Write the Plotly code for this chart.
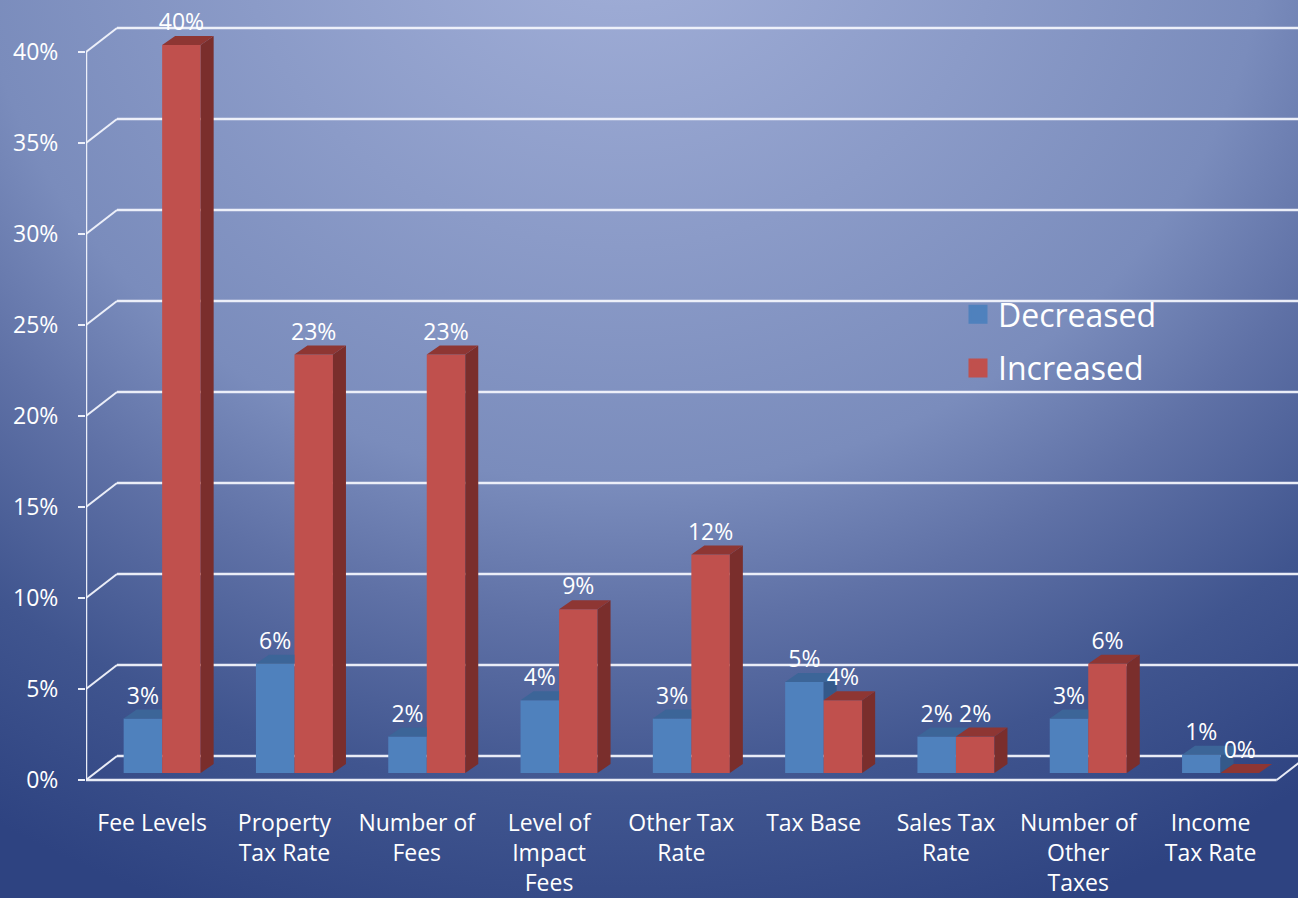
import base64
import plotly.graph_objects as go

# ---- data -------------------------------------------------------------
categories = [
    "Fee Levels", "Property<br>Tax Rate", "Number of<br>Fees",
    "Level of<br>Impact<br>Fees", "Other Tax<br>Rate", "Tax Base",
    "Sales Tax<br>Rate", "Number of<br>Other<br>Taxes", "Income<br>Tax Rate",
]
decreased = [3, 6, 2, 4, 3, 5, 2, 3, 1]
increased = [40, 23, 23, 9, 12, 4, 2, 6, 0]
y_ticks = [0, 5, 10, 15, 20, 25, 30, 35, 40]
series_names = ["Decreased", "Increased"]

# ---- look & geometry --------------------------------------------------
W, H = 1298, 898
PX_CAT = 132.3          # pixels per category slot
PX_PCT = 18.2           # pixels per percentage point
X0_PX = 86              # left edge of the front wall
Y0_PX = 780             # front floor line
Y_BOTTOM_PX = 794       # bottom of the plotting domain

WALL_DX = 31 / PX_CAT   # depth of the back wall
WALL_DY = 24 / PX_PCT
BAR_W = 38.5 / PX_CAT
BAR_SHIFT = 10 / PX_CAT
BAR_BASE = 7 / PX_PCT   # bars stand a little behind the front edge
BAR_DX = 13 / PX_CAT    # depth of each column
BAR_DY = 9 / PX_PCT

x_max = -0.5 + (W - X0_PX) / PX_CAT
y_min = -(Y_BOTTOM_PX - Y0_PX) / PX_PCT
y_max = Y0_PX / PX_PCT

BLUE = dict(front="#4F81BD", top="#3C6598", side="#34598A")
RED = dict(front="#C0504D", top="#8E3633", side="#7A2E2C")
FONT = "Open Sans"
GRID = "rgba(242,244,252,0.95)"

# ---- background gradient ----------------------------------------------
svg = f"""<svg xmlns='http://www.w3.org/2000/svg' width='{W}' height='{H}' viewBox='0 0 {W} {H}' preserveAspectRatio='none'>
<defs><radialGradient id='g' gradientUnits='userSpaceOnUse' cx='0' cy='0' r='1'
 gradientTransform='translate(620,-100) scale(1200,1080)'>
<stop offset='0' stop-color='#A7B4DB'/>
<stop offset='0.1' stop-color='#9CAAD4'/>
<stop offset='0.54' stop-color='#7A8CBC'/>
<stop offset='0.67' stop-color='#5F71A6'/>
<stop offset='0.83' stop-color='#40558F'/>
<stop offset='1' stop-color='#2E4381'/>
</radialGradient></defs>
<rect x='0' y='0' width='{W}' height='{H}' fill='url(#g)'/></svg>"""
bg_uri = "data:image/svg+xml;base64," + base64.b64encode(svg.encode()).decode()

fig = go.Figure()

# front faces of the columns
blue_x = [i + BAR_SHIFT - BAR_W / 2 for i in range(len(categories))]
red_x = [i + BAR_SHIFT + BAR_W / 2 for i in range(len(categories))]
for xs, vals, col in [(blue_x, decreased, BLUE), (red_x, increased, RED)]:
    fig.add_trace(go.Bar(
        x=xs, y=vals, base=BAR_BASE, width=BAR_W,
        marker=dict(color=col["front"], line=dict(width=0)),
        showlegend=False, hoverinfo="skip",
    ))


def poly_trace(polys, color):
    xs, ys = [], []
    for p in polys:
        for px, py in p:
            xs.append(px)
            ys.append(py)
        xs.append(None)
        ys.append(None)
    return go.Scatter(x=xs, y=ys, mode="none", fill="toself",
                      fillcolor=color, showlegend=False, hoverinfo="skip")


blue_side, blue_top, red_side, red_top = [], [], [], []
for i in range(len(categories)):
    bl = blue_x[i] - BAR_W / 2
    br = blue_x[i] + BAR_W / 2
    rr = red_x[i] + BAR_W / 2
    bt = BAR_BASE + decreased[i]
    rt = BAR_BASE + increased[i]
    # blue side only shows where it rises above the red column
    if bt > rt:
        blue_side.append([(br, rt), (br + BAR_DX, rt + BAR_DY),
                          (br + BAR_DX, bt + BAR_DY), (br, bt)])
    # blue top is cut by the taller red column next to it
    right = br if increased[i] > decreased[i] else br + BAR_DX
    blue_top.append([(bl, bt), (bl + BAR_DX, bt + BAR_DY),
                     (right, bt + BAR_DY), (right, bt)])
    red_side.append([(rr, BAR_BASE), (rr + BAR_DX, BAR_BASE + BAR_DY),
                     (rr + BAR_DX, rt + BAR_DY), (rr, rt)])
    red_top.append([(br, rt), (br + BAR_DX, rt + BAR_DY),
                    (rr + BAR_DX, rt + BAR_DY), (rr, rt)])

fig.add_trace(poly_trace(blue_side, BLUE["side"]))
fig.add_trace(poly_trace(blue_top, BLUE["top"]))
fig.add_trace(poly_trace(red_side, RED["side"]))
fig.add_trace(poly_trace(red_top, RED["top"]))

# value labels
for xs, vals in [(blue_x, decreased), (red_x, increased)]:
    fig.add_trace(go.Scatter(
        x=xs, y=[BAR_BASE + v + BAR_DY for v in vals],
        text=[f"{v}%" for v in vals], mode="text", textposition="top center",
        textfont=dict(family=FONT, size=23, color="white"),
        cliponaxis=False, showlegend=False, hoverinfo="skip",
    ))

# legend entries
for name, col in zip(series_names, [BLUE, RED]):
    fig.add_trace(go.Scatter(
        x=[None], y=[None], mode="markers", name=name, legendgroup=name,
        marker=dict(symbol="square", size=16, color=col["front"],
                    line=dict(color=col["front"], width=3)),
    ))

# walls: side-wall diagonals, back-wall gridlines, front edges
shapes = []
for t in y_ticks:
    shapes.append(dict(type="line", xref="x", yref="y", layer="below",
                       x0=-0.5, y0=t, x1=-0.5 + WALL_DX, y1=t + WALL_DY,
                       line=dict(color=GRID, width=2)))
    shapes.append(dict(type="line", xref="x", yref="y", layer="below",
                       x0=-0.5 + WALL_DX, y0=t + WALL_DY, x1=x_max + 1, y1=t + WALL_DY,
                       line=dict(color=GRID, width=2.5)))
n = len(categories)
shapes.append(dict(type="line", xref="x", yref="y", layer="below",
                   x0=-0.5, y0=0, x1=n - 0.5, y1=0, line=dict(color=GRID, width=2.5)))
shapes.append(dict(type="line", xref="x", yref="y", layer="below",
                   x0=n - 0.5, y0=0, x1=n - 0.5 + WALL_DX, y1=WALL_DY,
                   line=dict(color=GRID, width=2)))
shapes.append(dict(type="line", xref="x", yref="y", layer="below",
                   x0=-0.5, y0=0, x1=-0.5, y1=y_ticks[-1], line=dict(color=GRID, width=2.5)))

axis_pos = (H - Y0_PX) / H
fig.update_layout(
    width=W, height=H,
    margin=dict(l=0, r=0, t=0, b=0),
    paper_bgcolor="#2E4381", plot_bgcolor="rgba(0,0,0,0)",
    images=[dict(source=bg_uri, xref="paper", yref="paper", x=0, y=1,
                 sizex=1, sizey=1, sizing="stretch", layer="below")],
    barmode="overlay",
    hovermode=False,
    shapes=shapes,
    font=dict(family=FONT, color="white"),
    xaxis=dict(
        domain=[X0_PX / W, 1], range=[-0.5, x_max],
        anchor="free", position=axis_pos,
        tickvals=list(range(n)), ticktext=categories, ticks="",
        tickfont=dict(family=FONT, size=23, color="white"),
        ticklabelstandoff=27,
        showgrid=False, zeroline=False, showline=False,
    ),
    xaxis2=dict(
        overlaying="x", range=[-0.5, x_max], anchor="free", position=axis_pos,
        tickvals=[k - 0.5 for k in range(n + 1)], ticks="outside",
        ticklen=8, tickwidth=2, tickcolor=GRID, showticklabels=False,
        showgrid=False, zeroline=False, showline=False,
    ),
    yaxis=dict(
        domain=[(H - Y_BOTTOM_PX) / H, 1], range=[y_min, y_max],
        tickvals=y_ticks, ticktext=[f"{t}%" for t in y_ticks],
        ticks="outside", ticklen=7, tickwidth=2, tickcolor=GRID,
        tickfont=dict(family=FONT, size=23, color="white"),
        ticklabelstandoff=15,
        showgrid=False, zeroline=False, showline=False,
    ),
    legend=dict(
        x=958 / W, y=1 - 287 / H, xanchor="left", yanchor="top",
        bgcolor="rgba(0,0,0,0)", font=dict(family=FONT, size=32, color="white"),
        traceorder="grouped", tracegroupgap=9,
    ),
)

fig.write_html("out.html")
